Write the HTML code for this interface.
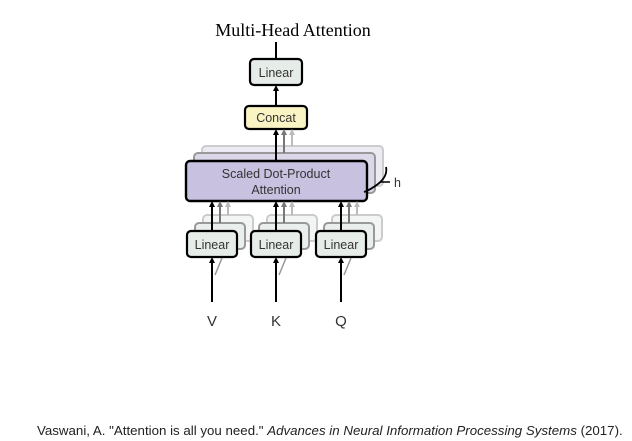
<!DOCTYPE html>
<html><head><meta charset="utf-8"><style>
html,body{margin:0;padding:0;background:#fff;width:632px;height:441px;overflow:hidden}
</style></head><body>
<svg width="632" height="441" viewBox="0 0 632 441" xmlns="http://www.w3.org/2000/svg" font-family="Liberation Sans, sans-serif">
<defs>
<marker id="a" markerWidth="6" markerHeight="6" refX="3" refY="3" orient="auto" markerUnits="userSpaceOnUse"><path d="M0,0 L6,3 L0,6 z" fill="#000"/></marker>
<marker id="ag" markerWidth="6" markerHeight="6" refX="3" refY="3" orient="auto" markerUnits="userSpaceOnUse"><path d="M0,0 L6,3 L0,6 z" fill="#777"/></marker>
<marker id="al" markerWidth="6" markerHeight="6" refX="3" refY="3" orient="auto" markerUnits="userSpaceOnUse"><path d="M0,0 L6,3 L0,6 z" fill="#bbb"/></marker>
</defs>
<text x="293" y="36" font-family="Liberation Serif, serif" font-size="18" text-anchor="middle">Multi-Head Attention</text>
<line x1="276" y1="59" x2="276" y2="42" stroke="#000" stroke-width="2"/>
<rect x="250" y="59" width="52" height="26" rx="4" fill="#e6ede9" stroke="#000" stroke-width="2.2"/>
<text x="276" y="77" font-size="12.5" text-anchor="middle" fill="#333">Linear</text>
<line x1="276" y1="106" x2="276" y2="88" stroke="#000" stroke-width="2" marker-end="url(#a)"/>
<rect x="245" y="106" width="62" height="23" rx="4" fill="#faf3c4" stroke="#000" stroke-width="2.2"/>
<text x="276" y="122" font-size="12.5" text-anchor="middle" fill="#333">Concat</text>
<rect x="202" y="146" width="181" height="40" rx="4" fill="#eceaf3" stroke="#ccc" stroke-width="2"/>
<rect x="194" y="153" width="181" height="40" rx="4" fill="#dcd8ea" stroke="#999" stroke-width="2"/>
<line x1="292" y1="146" x2="292" y2="132" stroke="#bbb" stroke-width="2" marker-end="url(#al)"/>
<line x1="284" y1="153" x2="284" y2="132" stroke="#777" stroke-width="2" marker-end="url(#ag)"/>
<line x1="276" y1="161" x2="276" y2="132" stroke="#000" stroke-width="2" marker-end="url(#a)"/>
<rect x="186" y="161" width="181" height="40" rx="4" fill="#c9c1e0" stroke="#000" stroke-width="2.4"/>
<text x="276" y="178" font-size="12.5" text-anchor="middle" fill="#333">Scaled Dot-Product</text>
<text x="276" y="194" font-size="12.5" text-anchor="middle" fill="#333">Attention</text>
<path d="M386,167 Q388,176 378,184 Q370,190 364,192" fill="none" stroke="#000" stroke-width="1.8"/>
<line x1="380" y1="182" x2="390" y2="182" stroke="#000" stroke-width="1.5"/>
<text x="394" y="187" font-size="12.5" fill="#333">h</text>
<g id="g">
<rect x="203" y="215" width="50" height="26" rx="4" fill="#f3f5f4" stroke="#ccc" stroke-width="2"/>
<rect x="195" y="223" width="50" height="26" rx="4" fill="#eaeeec" stroke="#999" stroke-width="2"/>
<line x1="228" y1="215" x2="228" y2="204" stroke="#bbb" stroke-width="2" marker-end="url(#al)"/>
<line x1="220" y1="223" x2="220" y2="204" stroke="#777" stroke-width="2" marker-end="url(#ag)"/>
<line x1="212" y1="231" x2="212" y2="204" stroke="#000" stroke-width="2" marker-end="url(#a)"/>
<rect x="187" y="231" width="50" height="26" rx="4" fill="#e6ede9" stroke="#000" stroke-width="2.2"/>
<text x="212" y="249" font-size="12.5" text-anchor="middle" fill="#333">Linear</text>
<line x1="215" y1="275" x2="222" y2="258" stroke="#999" stroke-width="1.5"/>
<line x1="212" y1="302" x2="212" y2="260" stroke="#000" stroke-width="2" marker-end="url(#a)"/>
</g>
<use href="#g" x="64"/>
<use href="#g" x="129"/>
<text x="212" y="326" font-size="15" text-anchor="middle" fill="#333">V</text>
<text x="276" y="326" font-size="15" text-anchor="middle" fill="#333">K</text>
<text x="341" y="326" font-size="15" text-anchor="middle" fill="#333">Q</text>
<text x="37" y="435" font-size="13.3" fill="#222">Vaswani, A. "Attention is all you need." <tspan font-style="italic">Advances in Neural Information Processing Systems</tspan> (2017).</text>
</svg>
</body></html>
